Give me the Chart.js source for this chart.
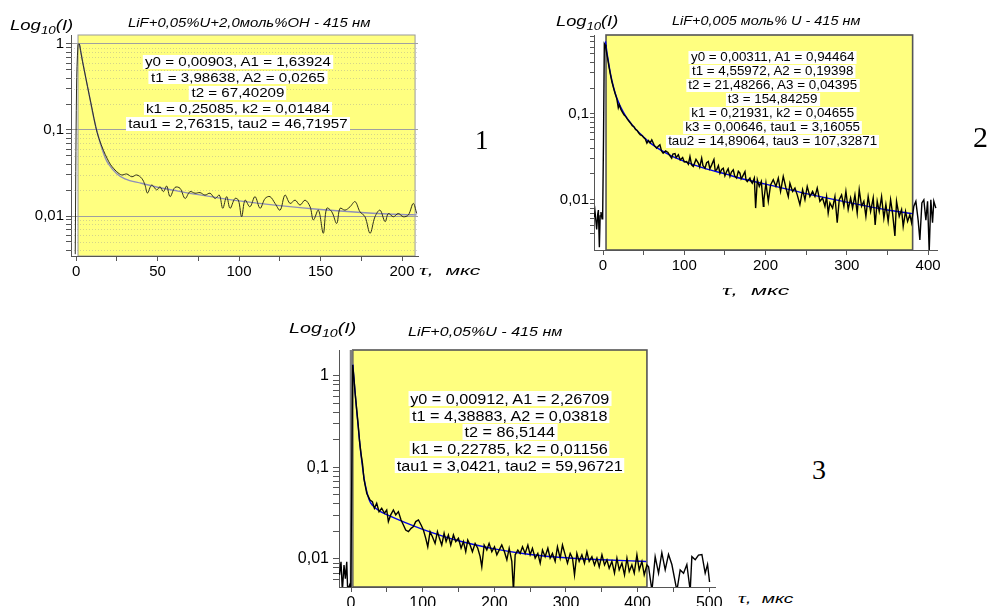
<!DOCTYPE html>
<html>
<head>
<meta charset="utf-8">
<script src="https://cdn.jsdelivr.net/npm/chart.js@4.4.0/dist/chart.umd.min.js"></script>
<style>
    body { margin: 0; width: 989px; height: 606px; position: relative; overflow: hidden; background: #fff;
           font-family: "Liberation Sans", Arial, sans-serif; color: #000; }
    canvas { position: absolute; }
    .lbl { position: absolute; white-space: nowrap; font-style: italic; line-height: 1; }
    .lbl sub { font-size: 0.72em; vertical-align: -0.35em; }
    .tau { font-family: "Liberation Serif", serif; font-size: 1.15em; }
    .num { position: absolute; font-family: "Liberation Serif", serif; line-height: 1; }
    .fit { position: absolute; text-align: center; white-space: nowrap; }
    .fit span { background: #fff; padding: 0 2px; line-height: 1.02; display: inline-block; }
</style>
</head>
<body>

<canvas id="chart1" width="440" height="290" style="left:0;top:0"></canvas>
<canvas id="chart2" width="449" height="300" style="left:540px;top:0"></canvas>
<canvas id="chart3" width="440" height="296" style="left:290px;top:310px"></canvas>

<div class="lbl" id="ylab1" style="font-size:15px">Log<sub>10</sub>(I)</div>
<div class="lbl" id="title1" style="font-size:12px">LiF+0,05%U+2,0моль%OH - 415 нм</div>
<div class="lbl" id="xlab1" style="font-size:13px"><span class="tau">τ</span>,&nbsp; мкс</div>
<div class="num" id="num1" style="font-size:27px">1</div>
<div class="fit" id="fit1" style="font-size:13.5px;line-height:15.5px">
    <div><span>y0 = 0,00903, A1 = 1,63924</span></div>
    <div><span>t1 = 3,98638, A2 = 0,0265</span></div>
    <div><span>t2 = 67,40209</span></div>
    <div><span>k1 = 0,25085, k2 = 0,01484</span></div>
    <div><span>tau1 = 2,76315, tau2 = 46,71957</span></div>
</div>

<div class="lbl" id="ylab2" style="font-size:15px">Log<sub>10</sub>(I)</div>
<div class="lbl" id="title2" style="font-size:12px">LiF+0,005 моль% U - 415 нм</div>
<div class="lbl" id="xlab2" style="font-size:13px"><span class="tau">τ</span>,&nbsp; мкс</div>
<div class="num" id="num2" style="font-size:30px">2</div>
<div class="fit" id="fit2" style="font-size:12.5px;line-height:14px">
    <div><span>y0 = 0,00311, A1 = 0,94464</span></div>
    <div><span>t1 = 4,55972, A2 = 0,19398</span></div>
    <div><span>t2 = 21,48266, A3 = 0,04395</span></div>
    <div><span>t3 = 154,84259</span></div>
    <div><span>k1 = 0,21931, k2 = 0,04655</span></div>
    <div><span>k3 = 0,00646, tau1 = 3,16055</span></div>
    <div><span>tau2 = 14,89064, tau3 = 107,32871</span></div>
</div>

<div class="lbl" id="ylab3" style="font-size:15px">Log<sub>10</sub>(I)</div>
<div class="lbl" id="title3" style="font-size:12px">LiF+0,05%U - 415 нм</div>
<div class="lbl" id="xlab3" style="font-size:13px"><span class="tau">τ</span>,&nbsp; мкс</div>
<div class="num" id="num3" style="font-size:28px">3</div>
<div class="fit" id="fit3" style="font-size:15px;line-height:16.7px">
    <div><span>y0 = 0,00912, A1 = 2,26709</span></div>
    <div><span>t1 = 4,38883, A2 = 0,03818</span></div>
    <div><span>t2 = 86,5144</span></div>
    <div><span>k1 = 0,22785, k2 = 0,01156</span></div>
    <div><span>tau1 = 3,0421, tau2 = 59,96721</span></div>
</div>

<script>
// [time (мкс), intensity]
const sample1Signal = [
    [-0.5, 0.0036], [0.3, 0.3], [1.2, 0.98], [2, 1.0], [3, 0.79], [4, 0.62], [5, 0.5], [6, 0.4], [8, 0.26],
    [10, 0.17], [12, 0.11], [14, 0.08], [16.8, 0.058], [19, 0.047], [21, 0.04], [22.9, 0.036], [25, 0.0327],
    [28, 0.03], [31.1, 0.0308], [34.2, 0.0286], [37.2, 0.03], [40.3, 0.0274], [42.3, 0.0229], [43.8, 0.0185],
    [46.4, 0.0229], [49.5, 0.0201], [51.5, 0.0219], [53.6, 0.0192], [55.6, 0.0223], [57.7, 0.0168],
    [60.7, 0.0215], [63.8, 0.021], [66.9, 0.016], [69.9, 0.0192], [73, 0.0184], [76.1, 0.0187], [79.1, 0.0175],
    [82.2, 0.0184], [85.3, 0.016], [87.9, 0.0175], [90, 0.0123], [92.4, 0.0168], [94.5, 0.0123], [97.5, 0.016],
    [99.6, 0.0153], [101.6, 0.0098], [103.7, 0.0153], [106.7, 0.0128], [109.8, 0.0168], [112.9, 0.0123],
    [116, 0.016], [119, 0.0168], [122.1, 0.014], [125.2, 0.0117], [128.2, 0.0175], [131.3, 0.014],
    [134.4, 0.0153], [137.4, 0.0134], [140.5, 0.0153], [143.6, 0.0128], [145.6, 0.009], [148.7, 0.0117],
    [151.7, 0.0063], [153.8, 0.0123], [156.9, 0.0112], [159.9, 0.0082], [162, 0.0123], [165, 0.0117],
    [168.1, 0.0128], [171.2, 0.0147], [174.2, 0.0112], [177.3, 0.0098], [180.4, 0.0063], [183.4, 0.0098],
    [186.5, 0.0117], [189.6, 0.0086], [191.6, 0.0107], [194.7, 0.0098], [197.7, 0.0107], [200.8, 0.0098],
    [203.9, 0.0103], [206.9, 0.014], [209, 0.0107]
];
const sample1Fit = [
    [2, 1.0], [3, 0.8], [4, 0.63], [5, 0.5], [6, 0.4], [8, 0.26], [10, 0.165], [12, 0.112], [14, 0.08],
    [16, 0.06], [18, 0.047], [20, 0.04], [25, 0.031], [30, 0.027], [40, 0.024], [50, 0.0216], [60, 0.0199],
    [75, 0.0177], [100, 0.015], [125, 0.0132], [150, 0.0119], [175, 0.011], [200, 0.0104], [209, 0.0103]
];

const sample2Signal = [
    [-10.5, 0.0063], [-9.8, 0.0072], [-7.8, 0.0045], [-6.5, 0.0068], [-5.7, 0.0076], [-4.5, 0.0028],
    [-3.5, 0.0065], [-2.5, 0.0072], [-1.2, 0.006], [-0.4, 0.007], [0.6, 0.05], [1.6, 0.66], [2.5, 0.64],
    [3.5, 0.58], [5, 0.48], [7, 0.37], [9, 0.29], [11, 0.235], [13, 0.2], [15, 0.172], [17, 0.15],
    [18.8, 0.118], [20, 0.128], [22, 0.113], [24, 0.104], [26, 0.097], [28, 0.093], [30, 0.087], [32, 0.082],
    [34, 0.078], [36, 0.073], [38, 0.071], [40, 0.066], [42, 0.064], [44, 0.06], [46, 0.057], [48, 0.056],
    [50, 0.053], [52, 0.051], [54, 0.0456], [56, 0.049], [58, 0.046], [60, 0.0499], [63, 0.043], [66, 0.0399],
    [68, 0.042], [70, 0.0437], [72, 0.037], [74, 0.0349], [77, 0.037], [80, 0.0355], [82, 0.033],
    [84.5, 0.0305], [86, 0.034], [88.6, 0.0345], [90, 0.031], [92.7, 0.0334], [95, 0.029], [98, 0.031],
    [100, 0.0275], [102.9, 0.0279], [105, 0.026], [107, 0.0319], [109, 0.0255], [111.1, 0.0244],
    [114.4, 0.0295], [117.3, 0.0267], [119, 0.024], [121.4, 0.0305], [123, 0.025], [125.5, 0.0233],
    [127.5, 0.027], [129.6, 0.0279], [131.5, 0.023], [133.7, 0.0255], [136.5, 0.0295], [138, 0.022],
    [139.8, 0.0223], [142, 0.025], [143.9, 0.0204], [146, 0.0225], [148, 0.0233], [150, 0.019],
    [152.1, 0.0213], [154, 0.023], [156.2, 0.0187], [158, 0.021], [160.3, 0.0223], [162, 0.019],
    [164.4, 0.0179], [166.5, 0.0215], [168.5, 0.0204], [170, 0.0175], [171.8, 0.0187], [174.7, 0.0213],
    [176, 0.017], [177.5, 0.0163], [180.8, 0.0179], [182, 0.0165], [183.7, 0.0156], [186.2, 0.0179],
    [187.8, 0.008], [189.9, 0.0171], [192.3, 0.0143], [194.8, 0.0163], [197.3, 0.0084], [198, 0.01],
    [200.5, 0.0156], [203.4, 0.0096], [206.2, 0.0149], [209.5, 0.0171], [212.8, 0.0143], [215.7, 0.0179],
    [218.5, 0.0125], [221.8, 0.0187], [225.1, 0.0137], [228, 0.0109], [230, 0.0156], [233.3, 0.0125],
    [236.2, 0.0137], [239, 0.0114], [242.3, 0.0088], [245.6, 0.0131], [248.5, 0.01], [251.3, 0.0143],
    [254.6, 0.0109], [257.9, 0.0125], [260.8, 0.0109], [263.6, 0.0137], [266.9, 0.0096], [270.2, 0.0105],
    [273.1, 0.0084], [275.1, 0.0109], [277.1, 0.007], [279.2, 0.0092], [282.5, 0.008], [285.4, 0.0109],
    [288.2, 0.0054], [290.7, 0.01], [293.6, 0.0114], [296.4, 0.0084], [298.9, 0.0125], [301.7, 0.0077],
    [304.7, 0.0105], [307.1, 0.008], [310, 0.0114], [312.8, 0.007], [315.3, 0.0131], [318.2, 0.0084],
    [321, 0.0096], [323.5, 0.0064], [326.3, 0.0109], [329.3, 0.0073], [332.5, 0.0105], [334.9, 0.0051],
    [337.4, 0.0096], [339.9, 0.0073], [342.8, 0.0109], [345.6, 0.0061], [348.1, 0.0088], [350.9, 0.0056],
    [353.9, 0.01], [356.3, 0.007], [359.2, 0.0038], [361.2, 0.0096], [364.5, 0.0064], [367.4, 0.0077],
    [369.4, 0.0049], [372.3, 0.0073], [374.8, 0.0056], [377.6, 0.0067], [379.7, 0.0054], [382.5, 0.0084],
    [385, 0.0096], [387.8, 0.0058], [389.9, 0.0034], [392.4, 0.0092], [394.8, 0.01], [397.3, 0.0058],
    [399.4, 0.0096], [401.4, 0.0025], [403.4, 0.01], [405.5, 0.0054], [407.1, 0.0096], [409.6, 0.008]
];
const sample2Fit = [
    [3, 0.7], [4, 0.6], [5, 0.505], [6, 0.445], [8, 0.34], [10, 0.27], [12, 0.223], [15, 0.174], [20, 0.13],
    [25, 0.105], [30, 0.088], [40, 0.067], [50, 0.054], [60, 0.0445], [80, 0.034], [100, 0.028],
    [125, 0.0232], [150, 0.02], [175, 0.0172], [200, 0.0152], [250, 0.0118], [300, 0.0094], [350, 0.0076],
    [381, 0.0069]
];

const sample3Signal = [
    [-16.1, 0.0067], [-14, 0.0093], [-12.1, 0.0045], [-9.8, 0.0086], [-7.9, 0.0061], [-6, 0.0093],
    [-4.7, 0.0045], [-3.3, 0.0049], [-1.9, 0.0052], [-0.4, 0.0045], [0.8, 0.05], [2.3, 1.32], [4, 0.95],
    [5.6, 0.66], [8, 0.42], [10, 0.29], [12, 0.19], [14, 0.14], [16, 0.11], [18, 0.075], [20, 0.062],
    [22, 0.052], [24.2, 0.048], [26.5, 0.0441], [29.8, 0.0423], [32.6, 0.0358], [35.8, 0.0406],
    [39.1, 0.0329], [42.8, 0.0358], [46.6, 0.0316], [49.8, 0.0343], [52.1, 0.0256], [55.4, 0.0303],
    [59.1, 0.0343], [62.4, 0.0303], [66.1, 0.0329], [69.8, 0.0267], [73.1, 0.0235], [76.3, 0.0207],
    [80.1, 0.0199], [83.8, 0.0216], [87.1, 0.0226], [90.3, 0.0256], [94.1, 0.0267], [97.8, 0.0235],
    [101, 0.0207], [104.3, 0.0168], [107.1, 0.0136], [110.3, 0.0199], [113.6, 0.0175], [117.3, 0.0148],
    [120.6, 0.0199], [123.4, 0.0168], [126.6, 0.0142], [129.9, 0.0191], [132.7, 0.0155], [135.9, 0.0183],
    [139.2, 0.0142], [142.9, 0.0183], [146.2, 0.0155], [149.9, 0.0168], [153.6, 0.0131], [156.9, 0.0155],
    [160.1, 0.012], [162.9, 0.0161], [166.2, 0.0142], [169.4, 0.012], [173.2, 0.0148], [176.9, 0.0131],
    [180.2, 0.0106], [182.5, 0.0082], [185.8, 0.0142], [189.5, 0.0125], [192.7, 0.0148], [196.5, 0.012],
    [200.2, 0.0136], [203.5, 0.0111], [206.7, 0.0125], [210.4, 0.0142], [214.1, 0.012], [217.5, 0.0098],
    [220.7, 0.0131], [224.4, 0.0094], [226.7, 0.0045], [229.1, 0.0111], [232.8, 0.0125], [236, 0.0115],
    [239.3, 0.0136], [243, 0.0115], [246.8, 0.0142], [250, 0.0111], [253.2, 0.0131], [257, 0.0102],
    [260.7, 0.0115], [264, 0.009], [267.2, 0.0125], [270.9, 0.0106], [274.7, 0.0131], [277.9, 0.0102],
    [281.1, 0.0115], [284.9, 0.0094], [288.1, 0.0136], [291.9, 0.0102], [295.1, 0.0142], [298.9, 0.0111],
    [302.1, 0.009], [305.9, 0.0115], [309.1, 0.0102], [311.9, 0.0067], [315.2, 0.0115], [318.4, 0.0094],
    [322.2, 0.0111], [325.8, 0.009], [329.2, 0.012], [332.4, 0.0094], [336.2, 0.0106], [339.8, 0.0086],
    [343.2, 0.0102], [346.4, 0.0082], [350.2, 0.0111], [353.8, 0.0086], [357.2, 0.0098], [360.3, 0.0079],
    [364.1, 0.0094], [367.7, 0.007], [371.1, 0.0102], [374.3, 0.0076], [378.1, 0.009], [381.7, 0.0067],
    [385.1, 0.0102], [388.3, 0.0073], [392, 0.0086], [395.3, 0.007], [399, 0.0111], [402.2, 0.0076],
    [406, 0.0094], [409.2, 0.0067], [413, 0.0086], [415.3, 0.0082], [420, 0.0045], [424.5, 0.0106],
    [429.2, 0.007], [433.8, 0.0117], [438.5, 0.0076], [443.1, 0.0112], [447.8, 0.0087], [454.8, 0.0045],
    [459.4, 0.0076], [464.1, 0.007], [468.7, 0.0087], [473.4, 0.0045], [475.7, 0.0106], [480.4, 0.0098],
    [485, 0.011], [489.7, 0.0112], [494.3, 0.007], [497.6, 0.0087], [500.4, 0.0056]
];
const sample3Fit = [
    [2.5, 1.33], [4, 0.96], [5, 0.77], [6, 0.62], [8, 0.41], [10, 0.28], [12, 0.19], [15, 0.117],
    [18, 0.078], [20, 0.064], [25, 0.045], [30, 0.0385], [40, 0.0333], [50, 0.0305], [75, 0.0251],
    [100, 0.0211], [150, 0.0158], [200, 0.0129], [250, 0.0112], [300, 0.0103], [350, 0.0098], [412, 0.0094]
];

(() => {
    const FONT = "'Liberation Sans', Arial, sans-serif";

    const mantissa = v => v / Math.pow(10, Math.floor(Math.log10(v) + 1e-9));
    const isDecade = v => Math.abs(mantissa(v) - 1) < 1e-6;
    const isMinor = v => { const m = mantissa(v); return Math.abs(m - Math.round(m)) < 1e-6 && !isDecade(v); };
    const fmtDecade = v => {
        const e = Math.round(Math.log10(v));
        return e >= 0 ? String(Math.pow(10, e)) : '0,' + '0'.repeat(-e - 1) + '1';
    };
    const toPoints = arr => arr.map(p => ({ x: p[0], y: p[1] }));

    // yellow fit window behind the curves
    const bandPlugin = {
        id: 'band',
        beforeDraw(chart, args, opts) {
            const { ctx, chartArea: a, scales: { x } } = chart;
            const x0 = x.getPixelForValue(opts.from);
            const x1 = x.getPixelForValue(opts.to);
            ctx.save();
            ctx.fillStyle = '#ffff80';
            ctx.fillRect(x0, a.top, x1 - x0, a.bottom - a.top);
            ctx.strokeStyle = opts.edge;
            ctx.lineWidth = opts.edgeWidth;
            ctx.strokeRect(x0, a.top, x1 - x0, a.bottom - a.top);
            if (opts.leftWidth) {
                ctx.fillStyle = '#808080';
                ctx.fillRect(x0 - opts.leftWidth, a.top, opts.leftWidth, a.bottom - a.top);
            }
            ctx.restore();
        }
    };

    // dotted minor grid (only panel 1)
    const minorGridPlugin = {
        id: 'minorGrid',
        beforeDatasetsDraw(chart, args, opts) {
            if (!opts.show) return;
            const { ctx, chartArea: a, scales: { y } } = chart;
            ctx.save();
            ctx.strokeStyle = 'rgba(150,150,150,0.4)';
            ctx.lineWidth = 1;
            ctx.setLineDash([1, 2]);
            y.ticks.forEach(t => {
                if (!isMinor(t.value) || t.value <= y.min || t.value >= y.max) return;
                const py = Math.round(y.getPixelForValue(t.value)) + 0.5;
                ctx.beginPath();
                ctx.moveTo(a.left, py);
                ctx.lineTo(a.right, py);
                ctx.stroke();
            });
            ctx.restore();
        }
    };

    function buildChart(id, o) {
        return new Chart(document.getElementById(id), {
            type: 'line',
            data: {
                datasets: [
                    { data: toPoints(o.signal), borderColor: o.signalColor, borderWidth: o.signalWidth,
                      pointRadius: 0, tension: o.signalTension },
                    { data: toPoints(o.fit), borderColor: o.fitColor, borderWidth: 1.4,
                      pointRadius: 0, cubicInterpolationMode: 'monotone' }
                ]
            },
            options: {
                responsive: false,
                animation: false,
                events: [],
                layout: { padding: { top: o.padTop, right: o.padRight, left: 0, bottom: 0 } },
                plugins: {
                    legend: { display: false },
                    tooltip: { enabled: false },
                    band: o.band,
                    minorGrid: { show: o.minorGrid }
                },
                scales: {
                    x: {
                        type: 'linear',
                        min: o.xMin,
                        max: o.xMax,
                        afterFit: s => { s.height = o.xHeight; },
                        border: { color: '#555', width: 1 },
                        grid: { drawOnChartArea: false, tickLength: 5, tickColor: '#555' },
                        ticks: {
                            stepSize: o.xStep,
                            includeBounds: false,
                            autoSkip: false,
                            maxRotation: 0,
                            padding: 2,
                            color: '#000',
                            font: { family: FONT, size: o.fontSize },
                            callback: v => Math.abs(v % o.xLabelStep) < 1e-6 ? String(v) : ''
                        }
                    },
                    y: {
                        type: 'logarithmic',
                        min: o.yMin,
                        max: o.yMax,
                        afterFit: s => { s.width = o.yWidth; },
                        border: { color: '#555', width: 1 },
                        grid: {
                            drawOnChartArea: o.majorGrid,
                            tickLength: o.yTick,
                            color: c => (c.tick && isDecade(c.tick.value)) ? '#a0a0a0' : 'rgba(0,0,0,0)',
                            tickColor: c => (c.tick && (isDecade(c.tick.value) || isMinor(c.tick.value))) ? '#555' : 'rgba(0,0,0,0)'
                        },
                        ticks: {
                            autoSkip: false,
                            padding: o.yPad,
                            color: '#000',
                            font: { family: FONT, size: o.fontSize },
                            callback: v => isDecade(v) ? fmtDecade(v) : ''
                        }
                    }
                }
            },
            plugins: [bandPlugin, minorGridPlugin]
        });
    }

    buildChart('chart1', {
        signal: sample1Signal, fit: sample1Fit,
        signalColor: '#2e2e1c', signalWidth: 1, signalTension: 0.35, fitColor: '#8f8fba',
        xMin: -3.1, xMax: 209.8, xStep: 25, xLabelStep: 50,
        yMin: 0.00343, yMax: 1.27,
        padTop: 35, padRight: 22, xHeight: 34, yWidth: 71, yTick: 5, yPad: 2, fontSize: 15,
        majorGrid: true, minorGrid: true,
        band: { from: 1.2, to: 208, edge: '#9a9a9a', edgeWidth: 1 }
    });

    buildChart('chart2', {
        signal: sample2Signal, fit: sample2Fit,
        signalColor: '#000', signalWidth: 1.4, signalTension: 0, fitColor: '#0000ee',
        xMin: -11.1, xMax: 411, xStep: 50, xLabelStep: 100,
        yMin: 0.0026, yMax: 0.83,
        padTop: 35, padRight: 52, xHeight: 50, yWidth: 54, yTick: 4, yPad: 1, fontSize: 15,
        majorGrid: false, minorGrid: false,
        band: { from: 3.7, to: 381, edge: '#555', edgeWidth: 1.6 }
    });

    buildChart('chart3', {
        signal: sample3Signal, fit: sample3Fit,
        signalColor: '#000', signalWidth: 1.4, signalTension: 0, fitColor: '#0000ee',
        xMin: -16.8, xMax: 508, xStep: 50, xLabelStep: 100,
        yMin: 0.00494, yMax: 1.92,
        padTop: 40, padRight: 15, xHeight: 19, yWidth: 49, yTick: 6, yPad: 4, fontSize: 16,
        majorGrid: false, minorGrid: false,
        band: { from: 2.4, to: 413, edge: '#555', edgeWidth: 1.6, leftWidth: 3 }
    });

    // text placement: left edge, vertical centre, stretched to the width seen in the picture
    function place(id, left, cy, width) {
        const el = document.getElementById(id);
        const w = el.offsetWidth, h = el.offsetHeight;
        el.style.left = left + 'px';
        el.style.top = (cy - h / 2) + 'px';
        el.style.transformOrigin = '0 0';
        if (width) el.style.transform = 'scaleX(' + (width / w) + ')';
    }
    function placeBlock(id, cx, top, width) {
        const el = document.getElementById(id);
        const w = el.offsetWidth;
        const k = width / w;
        el.style.left = (cx - w / 2) + 'px';
        el.style.top = top + 'px';
        el.style.transformOrigin = '50% 0';
        el.style.transform = 'scaleX(' + k + ')';
    }

    place('ylab1', 10, 26, 63);
    place('title1', 128, 23, 242);
    place('xlab1', 419, 270, 62);
    place('num1', 475, 140);
    placeBlock('fit1', 238, 54, 224);

    place('ylab2', 556, 22, 62);
    place('title2', 672, 21, 188);
    place('xlab2', 722, 290, 68);
    place('num2', 973, 137);
    placeBlock('fit2', 772, 50, 213);

    place('ylab3', 289, 329, 67);
    place('title3', 408, 332, 154);
    place('xlab3', 738, 598, 56);
    place('num3', 812, 470);
    placeBlock('fit3', 509, 391, 230);
})();
</script>
</body>
</html>
